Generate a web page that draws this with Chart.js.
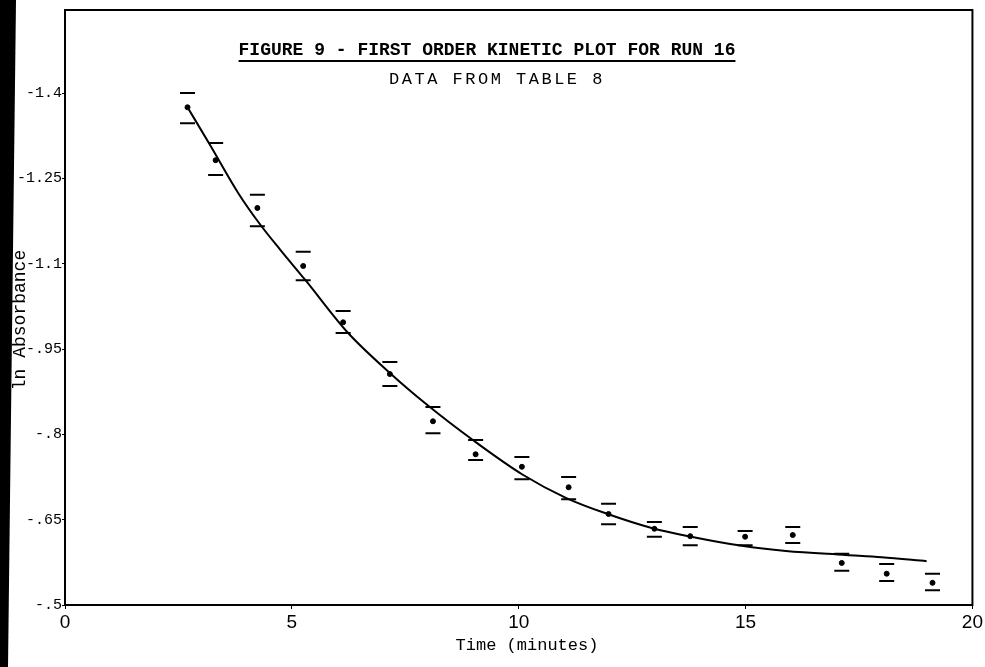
<!DOCTYPE html>
<html>
<head>
<meta charset="utf-8">
<script src="https://cdn.jsdelivr.net/npm/chart.js@4/dist/chart.umd.min.js"></script>
<style>
  html, body { margin: 0; padding: 0; background: #fff; }
  #wrap { position: relative; width: 985px; height: 667px; }
  #edge { position: absolute; left: 0; top: 0; width: 20px; height: 667px; background: #000;
          clip-path: polygon(0 0, 16px 0, 8px 100%, 0 100%); }
</style>
</head>
<body>
<div id="wrap">
  <canvas id="myChart" width="985" height="667"></canvas>
  <div id="edge"></div>
</div>
<script>
// measured points (time in minutes, ln absorbance)
const timeMin = [2.70, 3.32, 4.24, 5.25, 6.13, 7.16, 8.11, 9.05, 10.07, 11.10, 11.98, 12.99, 13.78, 14.99, 16.04, 17.12, 18.11, 19.12];
const lnAbs   = [-1.375, -1.282, -1.198, -1.096, -0.997, -0.906, -0.823, -0.765, -0.743, -0.707, -0.660, -0.634, -0.621, -0.620, -0.623, -0.574, -0.555, -0.539];
// error bar caps (upper drawn above the dot, lower below)
const capUpper = [-1.400, -1.312, -1.221, -1.121, -1.017, -0.927, -0.848, -0.790, -0.760, -0.725, -0.678, -0.646, -0.637, -0.630, -0.637, -0.590, -0.572, -0.555];
const capLower = [-1.347, -1.256, -1.166, -1.071, -0.978, -0.885, -0.802, -0.755, -0.721, -0.686, -0.642, -0.620, -0.605, -0.605, -0.609, -0.560, -0.542, -0.526];

// hand drawn fit curve
const fitTime  = [2.70, 3.21, 3.82, 4.31, 4.75, 5.30, 6.22, 7.16, 7.98, 8.99, 10.09, 11.05, 11.96, 12.95, 13.80, 14.92, 15.89, 17.21, 18.00, 18.99];
const fitLnAbs = [-1.375, -1.307, -1.224, -1.168, -1.124, -1.071, -0.980, -0.908, -0.852, -0.790, -0.729, -0.688, -0.660, -0.635, -0.620, -0.604, -0.595, -0.588, -0.584, -0.577];

const xTicks = [0, 5, 10, 15, 20];
const yTicks = [-1.4, -1.25, -1.1, -0.95, -0.8, -0.65, -0.5];
const yTickLabels = ['-1.4', '-1.25', '-1.1', '-.95', '-.8', '-.65', '-.5'];

const pts = (xs, ys) => xs.map((x, i) => ({x: x, y: ys[i]}));

const frameAndTitle = {
    id: 'frameAndTitle',
    afterDraw(chart) {
        const ctx = chart.ctx;
        const a = chart.chartArea;
        ctx.save();
        ctx.strokeStyle = '#000';
        ctx.lineWidth = 2;
        ctx.strokeRect(a.left, a.top, a.right - a.left, a.bottom - a.top);

        ctx.fillStyle = '#000';
        ctx.textAlign = 'center';
        ctx.textBaseline = 'middle';
        ctx.font = "bold 18px 'Liberation Mono'";
        const t = 'FIGURE 9 - FIRST ORDER KINETIC PLOT FOR RUN 16';
        ctx.fillText(t, 487, 50);
        const w = ctx.measureText(t).width;
        ctx.beginPath();
        ctx.moveTo(487 - w / 2, 61);
        ctx.lineTo(487 + w / 2, 61);
        ctx.lineWidth = 2;
        ctx.stroke();

        ctx.font = "17px 'Liberation Mono'";
        ctx.letterSpacing = '2.5px';
        ctx.fillText('DATA FROM TABLE 8', 497, 79);
        ctx.letterSpacing = '0px';

        // axis titles
        ctx.font = "17px 'Liberation Mono'";
        ctx.fillText('Time (minutes)', 527, 645);

        ctx.font = "18px 'Liberation Mono'";
        ctx.translate(20, 320);
        ctx.rotate(-Math.PI / 2);
        ctx.fillText('ln Absorbance', 0, 0);
        ctx.restore();
    }
};

window.onload = () => {
    const ctx = document.getElementById('myChart').getContext('2d');
    const myChart = new Chart(ctx, {
        type: 'scatter',
        data: {
            datasets: [{
                label: 'fit',
                type: 'line',
                data: pts(fitTime, fitLnAbs),
                borderColor: '#000',
                borderWidth: 2,
                pointRadius: 0,
                cubicInterpolationMode: 'monotone',
                fill: false
            }, {
                label: 'ln A',
                data: pts(timeMin, lnAbs),
                backgroundColor: '#000',
                borderColor: '#000',
                pointRadius: 2.5
            }, {
                label: 'upper',
                data: pts(timeMin, capUpper),
                pointStyle: 'line',
                pointRadius: 7.5,
                borderColor: '#000',
                borderWidth: 2
            }, {
                label: 'lower',
                data: pts(timeMin, capLower),
                pointStyle: 'line',
                pointRadius: 7.5,
                borderColor: '#000',
                borderWidth: 2
            }]
        },
        options: {
            responsive: false,
            animation: false,
            layout: { padding: { top: 10, right: 8, left: 0, bottom: 0 } },
            plugins: {
                legend: { display: false },
                tooltip: { enabled: false }
            },
            scales: {
                x: {
                    type: 'linear',
                    min: 0,
                    max: 20,
                    afterFit: (s) => { s.height = 62; },
                    afterBuildTicks: (s) => { s.ticks = xTicks.map(v => ({value: v})); },
                    grid: { drawOnChartArea: false, drawTicks: true, tickLength: 4, color: '#000' },
                    border: { color: '#000', width: 2 },
                    ticks: { color: '#000', padding: 2, maxRotation: 0,
                             font: { family: 'Liberation Sans', size: 19 } }
                },
                y: {
                    type: 'linear',
                    reverse: true,
                    min: -1.546,
                    max: -0.5,
                    afterFit: (s) => { s.width = 65; },
                    afterBuildTicks: (s) => { s.ticks = yTicks.map(v => ({value: v})); },
                    grid: { drawOnChartArea: false, drawTicks: true, tickLength: 3, color: '#000' },
                    border: { color: '#000', width: 2 },
                    ticks: {
                        color: '#000', padding: 0,
                        font: { family: 'Liberation Mono', size: 15 },
                        callback: (v) => {
                            const i = yTicks.findIndex(t => Math.abs(t - v) < 1e-6);
                            return i >= 0 ? yTickLabels[i] : '';
                        }
                    }
                }
            }
        },
        plugins: [frameAndTitle]
    });
}
</script>
</body>
</html>
